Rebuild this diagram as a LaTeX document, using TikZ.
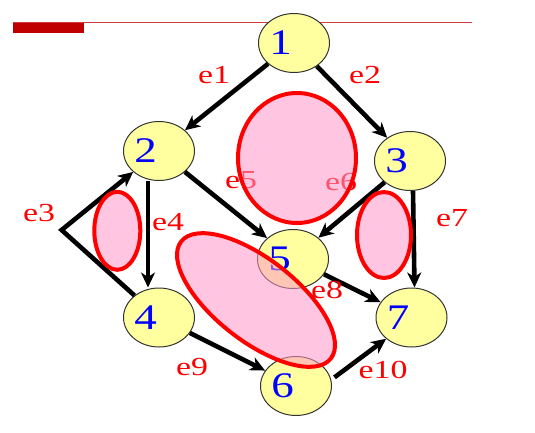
\documentclass[tikz,border=0pt]{standalone}
\usepackage{fontspec}
\setmainfont{Liberation Serif}
\usetikzlibrary{arrows.meta,%
                shapes}
\definecolor{vtxfill}{RGB}{255,255,160}
\definecolor{blobfill}{RGB}{255,150,200}
\definecolor{barred}{RGB}{192,0,0}
\definecolor{rulered}{RGB}{210,60,60}

\begin{document}
\begin{tikzpicture}[x=1pt,y=1pt,
  vtx/.style={ellipse,draw=black!80,line width=1pt,fill=vtxfill,
              minimum width=71pt,minimum height=59pt,inner sep=0pt},
  vnum/.style={text=blue,font=\fontsize{36}{36}\selectfont,xscale=1.25},
  elab/.style={text=red,font=\fontsize{26}{26}\selectfont,xscale=1.3},
  link/.style={line width=4.6pt,-{Stealth[length=15pt,width=14pt,inset=4.5pt]}},
  blob/.style={draw=red,line width=4pt,fill=blobfill,fill opacity=0.55}]
\useasboundingbox (0,0) rectangle (535,432);
\draw[rulered,line width=1.5pt] (13,409.5) -- (472,409.5);
\fill[barred] (13,409) rectangle (84,398.7);

\node[vtx,label={[xshift=-13.5pt,vnum]center:1}] (n1) at (294,389) {};
\node[vtx,label={[xshift=-13.5pt,vnum]center:2}] (n2) at (159,281) {};
\node[vtx,label={[xshift=-13.5pt,vnum]center:3}] (n3) at (410,271) {};
\node[vtx,label={[xshift=-13.5pt,vnum]center:4}] (n4) at (159,114.5) {};
\node[vtx,label={[xshift=-13.5pt,vnum]center:5}] (n5) at (293,173) {};
\node[vtx,label={[xshift=-13.5pt,vnum]center:6}] (n6) at (296,46) {};
\node[vtx,label={[xshift=-13.5pt,vnum]center:7}] (n7) at (411.5,114.5) {};
\coordinate (c3) at (61.6,202);

\draw[link] (n1) -- (n2);
\draw[link] (n1) -- (n3);
\draw[link] (n4) -- (c3) -- (n2);
\draw[link] ([xshift=-11pt]n2.south) -- ([xshift=-11pt]n4.north);
\draw[link] (n2) -- (n5);
\draw[link] (n3) -- (n5);
\draw[link] ([xshift=3pt]n3.south) -- ([xshift=3pt]n7.north);
\draw[link] (n5) -- (n7);
\draw[link] (n4) -- (n6);
\draw[link,shorten <=4pt] (n6.10) -- (n7.220);

\node[elab] (l1) at (214,357) {e1};
\node[elab] (l2) at (365,357) {e2};
\node[elab] (l3) at (39,219) {e3};
\node[elab] (l4) at (168,210) {e4};
\node[elab] (l5) at (241,252) {e5};
\node[elab] (l6) at (341,250) {e6};
\node[elab] (l7) at (452,214) {e7};
\node[elab] (l8) at (327,142) {e8};
\node[elab] (l9) at (192,65) {e9};
\node[elab] (l10) at (383,62) {e10};

% hyperedges
\draw[blob] (297,274) ellipse [x radius=59,y radius=65];
\draw[blob] (117.3,201.2) ellipse [x radius=23,y radius=39];
\draw[blob] (384,197) ellipse [x radius=27,y radius=43];
\draw[blob,rotate around={-38:(256,132)}] (256,132) ellipse [x radius=95,y radius=41];
\end{tikzpicture}
\end{document}
